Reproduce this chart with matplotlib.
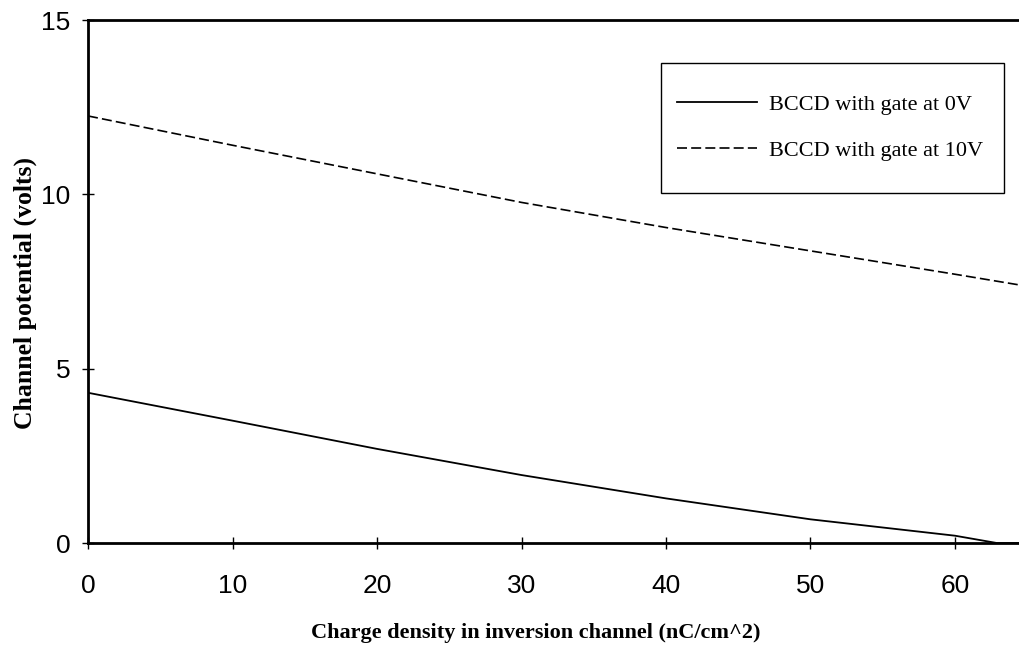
import numpy as np
import matplotlib
matplotlib.use("Agg")
import matplotlib.pyplot as plt
from matplotlib.patches import Rectangle

# charge density (nC/cm^2) and channel potential (V)
q_gate0 = [0, 10, 20, 30, 40, 50, 60, 62.9, 64.5]
v_gate0 = [4.31, 3.51, 2.70, 1.95, 1.28, 0.68, 0.21, 0.0, 0.0]

q_gate10 = [0, 10, 20, 30, 40, 50, 60, 64.5]
v_gate10 = [12.25, 11.41, 10.59, 9.77, 9.05, 8.38, 7.71, 7.40]

labels = ["BCCD with gate at 0V", "BCCD with gate at 10V"]
xticks = [0, 10, 20, 30, 40, 50, 60]
yticks = [0, 5, 10, 15]

fig = plt.figure(figsize=(10.2, 6.48), dpi=100)
ax = fig.add_axes([0.0863, 0.162, 0.9137, 0.807])

ax.plot(q_gate0, v_gate0, color="black", lw=1.3, label=labels[0])
ax.plot(q_gate10, v_gate10, color="black", lw=1.2, dashes=(6, 2.5), label=labels[1])

ax.set_xlim(0, 64.5)
ax.set_ylim(0, 15)
ax.set_xticks(xticks)
ax.set_yticks(yticks)

for s in ["left", "bottom", "top"]:
    ax.spines[s].set_linewidth(2)
ax.spines["right"].set_visible(False)
ax.tick_params(direction="inout", length=9, width=1, labelsize=19)
for lab in ax.get_xticklabels() + ax.get_yticklabels():
    lab.set_family("Liberation Sans")
ax.tick_params(axis="x", pad=18)
ax.tick_params(axis="y", pad=8)

ax.set_xlabel("Charge density in inversion channel (nC/cm^2)", family="Liberation Serif",
              fontweight="bold", fontsize=16)
ax.xaxis.set_label_coords(0.48, -0.153)
ax.set_ylabel("Channel potential (volts)", family="Liberation Serif",
              fontweight="bold", fontsize=18.5)
ax.yaxis.set_label_coords(-0.055, 0.478)

# legend entries without frame, box drawn separately (taller than legend padding allows)
leg = ax.legend(loc="upper left", bbox_to_anchor=(677 / 1020, 1 - 94 / 648),
                bbox_transform=fig.transFigure, borderaxespad=0, borderpad=0,
                prop={"family": "Liberation Serif", "size": 16},
                handlelength=3.6, handletextpad=0.55, labelspacing=1.15,
                frameon=False)
fig.patches.append(Rectangle((661 / 1020, 1 - 193 / 648), 343 / 1020, 130 / 648,
                             transform=fig.transFigure, fill=False,
                             edgecolor="black", linewidth=1))

fig.savefig("out.png", dpi=100)
